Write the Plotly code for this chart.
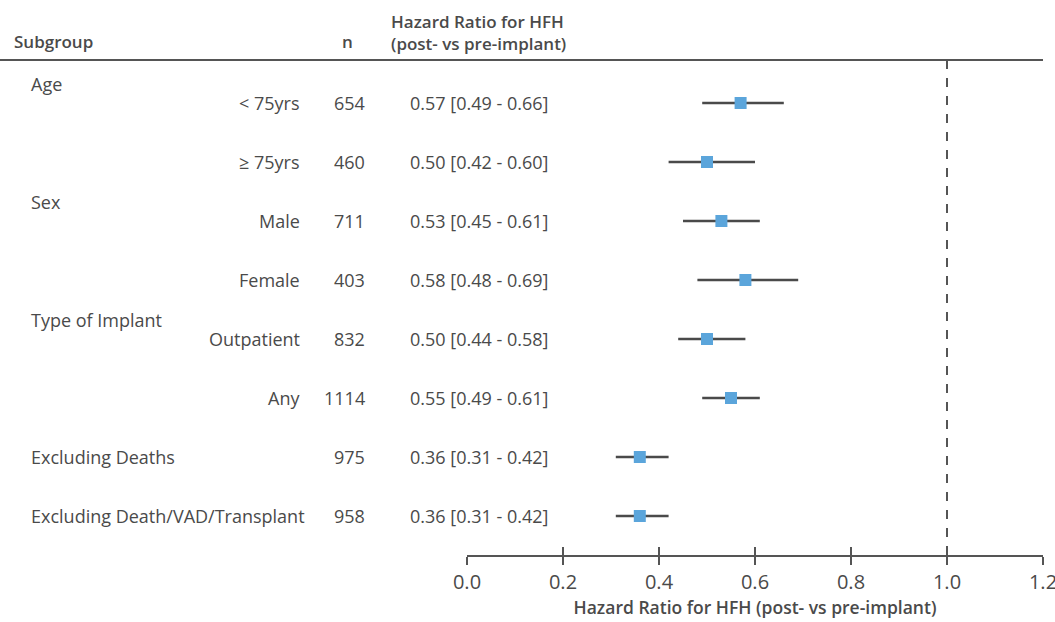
import plotly.graph_objects as go

# ---- data ----
group_heads = {0: "Age", 2: "Sex", 4: "Type of Implant"}
sublabels = ["< 75yrs", "≥ 75yrs", "Male", "Female", "Outpatient", "Any", "", ""]
mainlabels = ["", "", "", "", "", "", "Excluding Deaths", "Excluding Death/VAD/Transplant"]
n_values = [654, 460, 711, 403, 832, 1114, 975, 958]
hr = [0.57, 0.50, 0.53, 0.58, 0.50, 0.55, 0.36, 0.36]
lo = [0.49, 0.42, 0.45, 0.48, 0.44, 0.49, 0.31, 0.31]
hi = [0.66, 0.60, 0.61, 0.69, 0.58, 0.61, 0.42, 0.42]
xticks = [0.0, 0.2, 0.4, 0.6, 0.8, 1.0, 1.2]

W, H = 1055, 622
L, R, T, B = 467, 12, 60, 67
pw = W - L - R
ph = H - T - B

def px_to_paper_x(px):
    return (px - L) / pw

def px_to_paper_y(py):
    return (H - B - py) / ph

FONT = "Open Sans"
TXT = "#4a4a4a"
FS = 18
HFS = 17

rows = list(range(len(hr)))

fig = go.Figure()
fig.add_trace(go.Scatter(
    x=hr, y=rows, mode="markers",
    marker=dict(symbol="square", size=12, color="#5BA5DB"),
    error_x=dict(type="data", symmetric=False,
                 array=[h - v for h, v in zip(hi, hr)],
                 arrayminus=[v - l for v, l in zip(hr, lo)],
                 width=0, thickness=2.5, color="#4a4a4a"),
    showlegend=False, hoverinfo="skip"))
fig.add_trace(go.Scatter(x=[0, 1.2], y=[0, 0], xaxis="x2", mode="markers",
                         marker=dict(opacity=0), showlegend=False, hoverinfo="skip"))

ann = []
ann.append(dict(text="Subgroup", x=px_to_paper_x(12), y=px_to_paper_y(42), xanchor="left", yanchor="middle"))
ann.append(dict(text="n", x=px_to_paper_x(347), y=px_to_paper_y(42), xanchor="center", yanchor="middle"))
ann.append(dict(text="Hazard Ratio for HFH<br>(post- vs pre-implant)", x=px_to_paper_x(389),
                y=px_to_paper_y(32), xanchor="left", yanchor="middle", align="left"))
for a in ann:
    a.update(xref="paper", yref="paper", showarrow=False,
             font=dict(family=FONT, size=HFS, color=TXT, weight=600))

row_ann = []
for i, g in group_heads.items():
    row_ann.append(dict(text=g, x=px_to_paper_x(29), y=i - 19 / 59, xanchor="left"))
for i in rows:
    if sublabels[i]:
        row_ann.append(dict(text=sublabels[i], x=px_to_paper_x(302), y=i, xanchor="right"))
    if mainlabels[i]:
        row_ann.append(dict(text=mainlabels[i], x=px_to_paper_x(29), y=i, xanchor="left"))
    row_ann.append(dict(text=str(n_values[i]), x=px_to_paper_x(367), y=i, xanchor="right"))
    row_ann.append(dict(text=f"{hr[i]:.2f} [{lo[i]:.2f} - {hi[i]:.2f}]",
                        x=px_to_paper_x(550), y=i, xanchor="right"))
for a in row_ann:
    a.update(xref="paper", yref="y", showarrow=False, yanchor="middle",
             font=dict(family=FONT, size=FS, color=TXT))

shapes = [
    dict(type="line", xref="paper", yref="paper", x0=px_to_paper_x(0), x1=1, y0=1, y1=1,
         line=dict(color="#555555", width=2)),
    dict(type="line", xref="x", yref="paper", x0=1.0, x1=1.0, y0=0, y1=1,
         line=dict(color="#555555", width=2, dash="dash")),
]

y_top = (T - 103) / 59
y_bot = (H - B - 103) / 59

fig.update_layout(
    width=W, height=H,
    margin=dict(l=L, r=R, t=T, b=B, pad=0, autoexpand=False),
    plot_bgcolor="white", paper_bgcolor="white",
    annotations=ann + row_ann,
    shapes=shapes,
    xaxis=dict(range=[0, 1.2], tickvals=xticks, ticktext=[f"{v:.1f}" for v in xticks],
               automargin=False, ticklabeloverflow="allow",
               showgrid=False, zeroline=False, showline=True, linecolor="#555555", linewidth=2,
               ticks="outside", ticklen=8, tickwidth=2, tickcolor="#555555",
               tickfont=dict(family=FONT, size=20, color=TXT),
               title=dict(text="Hazard Ratio for HFH (post- vs pre-implant)", standoff=5,
                          font=dict(family=FONT, size=17.5, color=TXT, weight=600))),
    xaxis2=dict(range=[0, 1.2], overlaying="x", anchor="y", side="bottom",
                automargin=False,
                tickvals=xticks, showticklabels=False, showgrid=False, zeroline=False,
                ticks="inside", ticklen=8, tickwidth=2, tickcolor="#555555", showline=False),
    yaxis=dict(range=[y_bot, y_top], showgrid=False, zeroline=False, showline=False,
               automargin=False, showticklabels=False, ticks=""),
)

fig.write_html("out.html", config={"displayModeBar": False},
               post_script="document.body.style.margin='0';")
